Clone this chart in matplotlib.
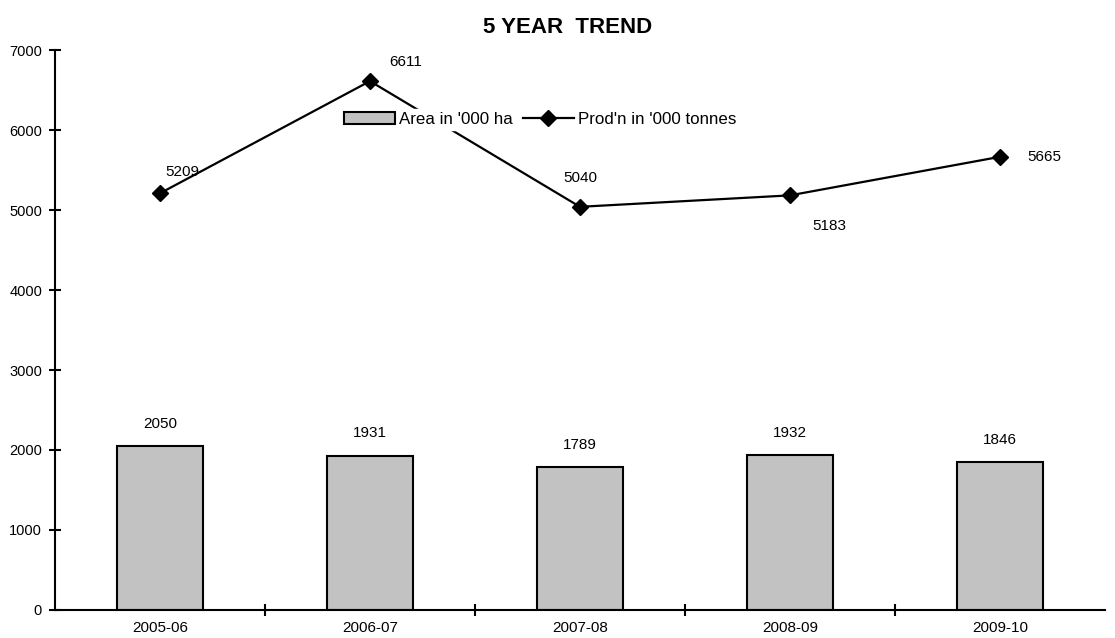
import matplotlib.pyplot as plt
import numpy as np

plt.rcParams['font.family'] = ['Liberation Sans', 'DejaVu Sans']

# data
years = ["2005-06", "2006-07", "2007-08", "2008-09", "2009-10"]
area = [2050, 1931, 1789, 1932, 1846]
prod = [5209, 6611, 5040, 5183, 5665]

# label offsets for the production values (points)
prod_offsets = [(16, 15), (26, 14), (0, 21), (28, -22), (32, 0)]

fig = plt.figure(figsize=(11.15, 6.38), dpi=100)
ax = fig.add_axes([0.0493, 0.0439, 0.9417, 0.8777])

x = np.arange(len(years))
ax.bar(x, area, width=0.41, color="#c2c2c2", edgecolor="black",
       linewidth=1.5, label="Area in '000 ha", zorder=2)
ax.plot(x, prod, color="black", lw=1.6, marker="D", markersize=8,
        label="Prod'n in '000 tonnes", zorder=3)

for xi, v in zip(x, area):
    ax.annotate(str(v), (xi, v), xytext=(0, 16), textcoords="offset points",
                ha="center", va="center", fontsize=11)
for xi, v, off in zip(x, prod, prod_offsets):
    ax.annotate(str(v), (xi, v), xytext=off, textcoords="offset points",
                ha="center", va="center", fontsize=11)

ax.set_xlim(-0.5, len(years) - 0.5)
ax.set_ylim(0, 7000)
ax.set_yticks(range(0, 7001, 1000))
ax.set_xticks(x)
ax.set_xticklabels(years, fontsize=11)
ax.set_xticks(np.arange(0.5, len(years) - 0.5, 1), minor=True)
ax.tick_params(axis="x", which="major", length=0, pad=8)
ax.tick_params(axis="x", which="minor", direction="inout", length=8.6, width=1.5)
ax.tick_params(axis="y", direction="inout", length=8.6, width=1.5, labelsize=10.5, pad=5)

for s in ["top", "right"]:
    ax.spines[s].set_visible(False)
for s in ["left", "bottom"]:
    ax.spines[s].set_linewidth(1.5)

fig.text(0.509, 0.957, "5 YEAR  TREND", fontsize=16, fontweight="bold",
         ha="center", va="center")

handles, labels = ax.get_legend_handles_labels()
leg = ax.legend(handles[::-1], labels[::-1], loc="center left",
                bbox_to_anchor=(0.264, 0.876), ncol=2,
                frameon=True, fontsize=12.2, handlelength=3.0, columnspacing=0.6,
                handletextpad=0.25, borderpad=0.2)
leg.get_frame().set_edgecolor("white")
leg.get_frame().set_facecolor("white")
leg.get_frame().set_alpha(1)
leg.set_zorder(5)

fig.savefig("out.png", dpi=100)
